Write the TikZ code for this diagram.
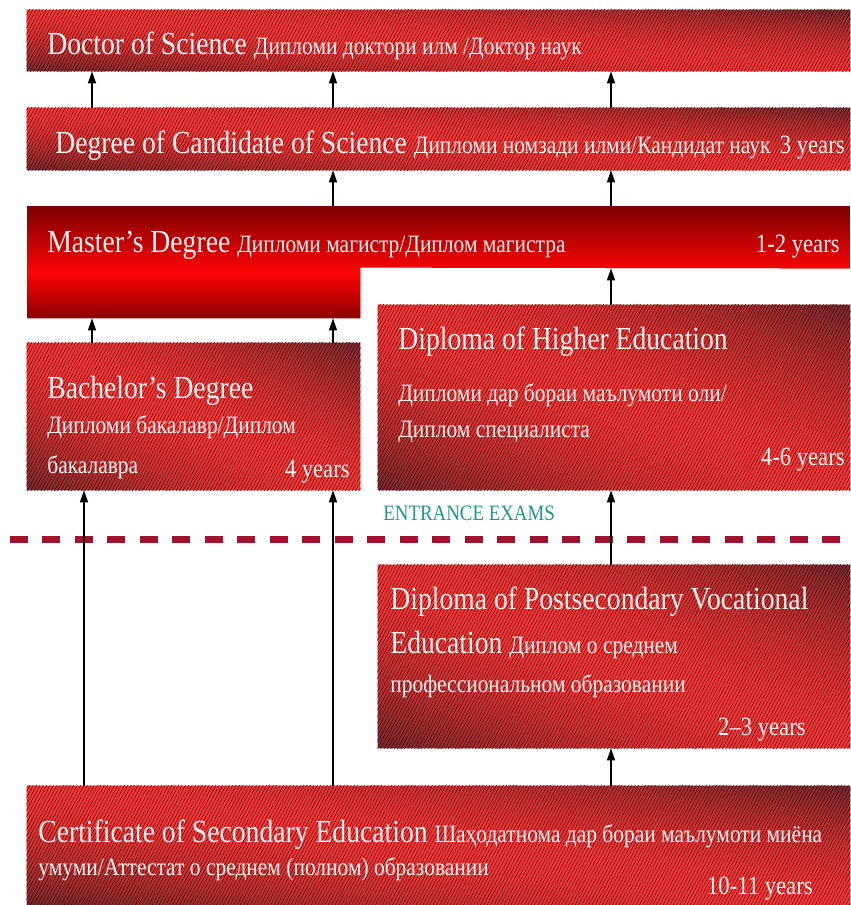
\documentclass[tikz,border=0pt]{standalone}
\usepackage{fontspec}
\setmainfont{Liberation Serif}[FakeStretch=0.86]
\usetikzlibrary{arrows.meta,fit,calc,patterns.meta}

\definecolor{boxred}{RGB}{255,52,52}
\definecolor{boxdark}{RGB}{122,40,44}
\definecolor{mastdark}{RGB}{124,0,0}
\definecolor{mastred}{RGB}{252,4,4}
\definecolor{examteal}{RGB}{30,150,140}
\definecolor{dashred}{RGB}{162,18,44}
\definecolor{txtwhite}{RGB}{255,242,242}

\newcommand\cyrsmall{\fontsize{14.2}{17}\selectfont}

% diagonal dark-bright-dark fill of a box node, with fine hatching on top
\newcommand\redfill[1]{%
  \begin{scope}
  \clip (#1.north west) rectangle (#1.south east);
  \foreach \i in {0,...,47}{
    \pgfmathsetmacro\ua{2*\i/48-1}
    \pgfmathsetmacro\ub{2*(\i+1.3)/48-1}
    \pgfmathsetmacro\la{2*\i/48}
    \pgfmathsetmacro\lb{2*(\i+1.3)/48}
    \pgfmathsetmacro\mx{100*abs(2*(\i+0.5)/48-1)^1.8}
    \fill [boxdark!\mx!boxred] ($(#1.north west)!\ua!(#1.north east)$) -- ($(#1.north west)!\ub!(#1.north east)$)
      -- ($(#1.south west)!\lb!(#1.south east)$) -- ($(#1.south west)!\la!(#1.south east)$) -- cycle;
  }
  \fill [pattern={Lines[angle=62,distance=1.7pt,line width=.2pt]}, pattern color=black, fill opacity=.05]
    (#1.north west) rectangle (#1.south east);
  \end{scope}}

\tikzset{
  degbox/.style={inner sep=0pt},
  bigtxt/.style={font=\fontsize{18.3}{22}\selectfont, text=txtwhite, inner sep=0pt, anchor=base west},
  cyrtxt/.style={font=\cyrsmall, text=txtwhite, inner sep=0pt, anchor=base west},
  yrtxt/.style={font=\fontsize{15}{18}\selectfont, text=txtwhite, inner sep=0pt, anchor=base east},
  uparrow/.style={-{Triangle[length=2.4mm,width=1.6mm]}, line width=0.7pt, black},
  examline/.style={dashred, line width=0.14cm, dash pattern=on 0.36cm off 0.29cm}
}

\begin{document}
\begin{tikzpicture}[x=0.02cm,y=-0.02cm]
\useasboundingbox (0,0) rectangle (850,905);

% boxes
\node [degbox, fit={(27,10) (850,71)}] (doctor) {};
\node [degbox, fit={(27,108) (850,170)}] (cand) {};
\node [degbox, fit={(27,206) (850,268)}] (master) {};
\node [degbox, fit={(27,268) (360,318)}] (masterfoot) {};
\node [degbox, fit={(27,343) (360,490)}] (bach) {};
\node [degbox, fit={(378,305) (850,490)}] (higher) {};
\node [degbox, fit={(378,565) (850,748)}] (postsec) {};
\node [degbox, fit={(27,786) (850,905)}] (cert) {};

\redfill{doctor}
\redfill{cand}
\redfill{bach}
\redfill{higher}
\redfill{postsec}
\redfill{cert}

% master: L shape, dark top, bright middle, dark foot
\begin{scope}
\clip (master.north west) -- (master.north east) -- (master.south east) -- (masterfoot.north east)
  -- (masterfoot.south east) -- (masterfoot.south west) -- cycle;
\foreach \i in {0,...,55}{
  \pgfmathsetmacro\va{\i/56}
  \pgfmathsetmacro\vb{(\i+1.3)/56}
  \pgfmathsetmacro\vm{(\i+0.5)/56}
  \pgfmathsetmacro\mx{\vm<0.6 ? 100*(1-\vm/0.6) : 85*(\vm-0.6)/0.4}
  \fill [mastdark!\mx!mastred] ($(master.north west)!\va!(master.north west |- masterfoot.south)$)
    rectangle ($(master.north east)!\vb!(master.north east |- masterfoot.south)$);
}
\end{scope}

% texts
\node [bigtxt] (doctxt) at (47,55) {Doctor of Science {\cyrsmall Дипломи доктори илм /Доктор наук}};
\node [bigtxt] (candtxt) at (55,154) {Degree of Candidate of Science {\cyrsmall Дипломи номзади илми/Кандидат наук}};
\node [yrtxt] (candyr) at (845,154) {3 years};
\node [bigtxt] (mastxt) at (47,253) {Master’s Degree {\cyrsmall Дипломи магистр/Диплом магистра}};
\node [yrtxt] (mastyr) at (840,253) {1-2 years};
\node [bigtxt] (bachtxt) at (47,398) {Bachelor’s Degree};
\node [cyrtxt] (bachtxt2) at (47,433) {Дипломи бакалавр/Диплом};
\node [cyrtxt] (bachtxt3) at (47,473) {бакалавра};
\node [yrtxt] (bachyr) at (350,477) {4 years};
\node [bigtxt] (hightxt) at (398,349) {Diploma of Higher Education};
\node [cyrtxt] (hightxt2) at (398,401) {Дипломи дар бораи маълумоти оли/};
\node [cyrtxt] (hightxt3) at (398,437) {Диплом специалиста};
\node [yrtxt] (highyr) at (845,465) {4-6 years};
\node [bigtxt] (posttxt) at (390,609) {Diploma of Postsecondary Vocational};
\node [bigtxt] (posttxt2) at (390,653) {Education {\cyrsmall Диплом о среднем}};
\node [cyrtxt] (posttxt3) at (390,692) {профессиональном образовании};
\node [yrtxt] (postyr) at (806,735) {2–3 years};
\node [bigtxt] (certtxt) at (38,842) {Certificate of Secondary Education {\cyrsmall Шаҳодатнома дар бораи маълумоти миёна}};
\node [cyrtxt] (certtxt2) at (38,875) {умуми/Аттестат о среднем (полном) образовании};
\node [yrtxt] (certyr) at (813,894) {10-11 years};

% entrance exams line
\node [font=\fontsize{12.5}{15}\selectfont, text=examteal, inner sep=0pt, anchor=base west] (exams) at (383,520) {ENTRANCE EXAMS};
\coordinate (dashl) at (10,539);
\coordinate (dashr) at (850,539);
\draw [examline] (dashl) -- (dashr);

% arrows
\coordinate (lanea) at (92,0);
\coordinate (lanelow) at (84,0);
\coordinate (laneb) at (333,0);
\coordinate (lanec) at (611,0);
\draw [uparrow] (cand.north -| lanea) -- (doctor.south -| lanea);
\draw [uparrow] (cand.north -| laneb) -- (doctor.south -| laneb);
\draw [uparrow] (cand.north -| lanec) -- (doctor.south -| lanec);
\draw [uparrow] (master.north -| laneb) -- (cand.south -| laneb);
\draw [uparrow] (master.north -| lanec) -- (cand.south -| lanec);
\draw [uparrow] (bach.north -| lanea) -- (masterfoot.south -| lanea);
\draw [uparrow] (bach.north -| laneb) -- (masterfoot.south -| laneb);
\draw [uparrow] (higher.north -| lanec) -- (master.south -| lanec);
\draw [uparrow] (cert.north -| lanelow) -- (bach.south -| lanelow);
\draw [uparrow] (cert.north -| laneb) -- (bach.south -| laneb);
\draw [uparrow] (postsec.north -| lanec) -- (higher.south -| lanec);
\draw [uparrow] (cert.north -| lanec) -- (postsec.south -| lanec);
\end{tikzpicture}
\end{document}
